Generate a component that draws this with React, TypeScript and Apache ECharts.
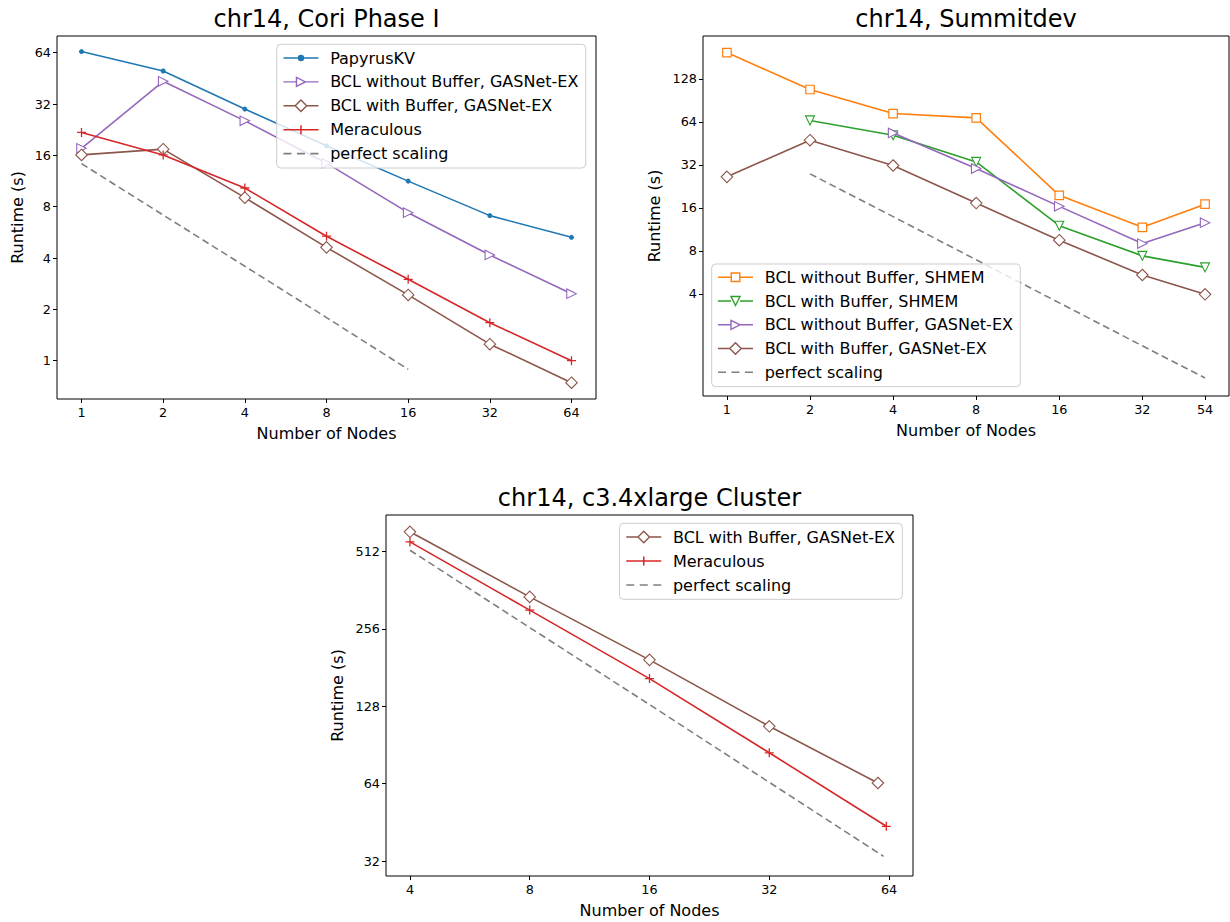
import React, { useEffect, useRef } from 'react';
import * as echarts from 'echarts';

const FONT = 'DejaVu Sans';

// ---- Panel 1: chr14, Cori Phase I ----
const coriNodes = [1, 2, 4, 8, 16, 32, 64];
const coriPapyrus = [65, 50, 29.9, 18.2, 11.3, 7.09, 5.29];
const coriBclNoBufGasnet = [17.6, 43.5, 25.5, 14.4, 7.38, 4.17, 2.47];
const coriBclBufGasnet = [16.1, 17.4, 9.04, 4.62, 2.43, 1.25, 0.743];
const coriMeraculous = [21.8, 16.1, 10.3, 5.37, 3.0, 1.67, 1.0];
const coriPerfectNodes = [1, 2, 4, 8, 16];
const coriPerfect = [14.3, 7.15, 3.58, 1.79, 0.89];
const coriXTicks = [1, 2, 4, 8, 16, 32, 64];
const coriYTicks = [1, 2, 4, 8, 16, 32, 64];

// ---- Panel 2: chr14, Summitdev ----
const sumNodes = [1, 2, 4, 8, 16, 32, 54];
const sumBclNoBufShmem = [196, 108, 73.3, 68.3, 19.6, 11.7, 17.0];
const sumBclBufShmemNodes = [2, 4, 8, 16, 32, 54];
const sumBclBufShmem = [65.6, 51.7, 33.6, 12.0, 7.38, 6.13];
const sumBclNoBufGasnetNodes = [4, 8, 16, 32, 54];
const sumBclNoBufGasnet = [53.6, 30.2, 16.4, 9.0, 12.6];
const sumBclBufGasnet = [26.4, 47.7, 31.7, 17.3, 9.5, 5.42, 3.97];
const sumPerfectNodes = [2, 4, 8, 16, 32, 54];
const sumPerfect = [27.7, 13.9, 6.93, 3.46, 1.73, 1.03];
const sumXTicks = [1, 2, 4, 8, 16, 32, 54];
const sumYTicks = [4, 8, 16, 32, 64, 128];

// ---- Panel 3: chr14, c3.4xlarge Cluster ----
const c3BclNodes = [4, 8, 16, 32, 60];
const c3BclBufGasnet = [611, 341, 194, 107, 64.4];
const c3MerNodes = [4, 8, 16, 32, 63];
const c3Meraculous = [558, 303, 164, 84.4, 43.7];
const c3PerfectNodes = [4, 8, 16, 32, 62];
const c3Perfect = [518, 259, 130, 64.8, 33.4];
const c3XTicks = [4, 8, 16, 32, 64];
const c3YTicks = [32, 64, 128, 256, 512];

const C = {
  blue: '#1f77b4',
  orange: '#ff7f0e',
  green: '#2ca02c',
  red: '#d62728',
  purple: '#9467bd',
  brown: '#8c564b',
  gray: '#7f7f7f',
};

const NAME_PAPYRUS = 'PapyrusKV';
const NAME_NOBUF_GAS = 'BCL without Buffer, GASNet-EX';
const NAME_BUF_GAS = 'BCL with Buffer, GASNet-EX';
const NAME_MER = 'Meraculous';
const NAME_PERF = 'perfect scaling';
const NAME_NOBUF_SH = 'BCL without Buffer, SHMEM';
const NAME_BUF_SH = 'BCL with Buffer, SHMEM';

const PLUS = 'path://M5,0L5,10M0,5L10,5';

// legend icons: line + marker drawn in a 35 x 16 box (centre y = 8)
const ICON: Record<string, string> = {
  [NAME_PAPYRUS]: 'path://M0,8L35,8M15,8a2.5,2.5 0 1,0 5,0a2.5,2.5 0 1,0 -5,0Z',
  [NAME_NOBUF_GAS]: 'path://M0,8L13,8M22,8L35,8M13,3.5L22,8L13,12.5Z',
  [NAME_BUF_GAS]: 'path://M0,8L11.75,8M23.25,8L35,8M17.5,2.25L23.25,8L17.5,13.75L11.75,8Z',
  [NAME_MER]: 'path://M0,8L35,8M17.5,3.5L17.5,12.5',
  [NAME_PERF]: 'path://M0,7.2L8,7.2L8,8.8L0,8.8ZM13.5,7.2L21.5,7.2L21.5,8.8L13.5,8.8ZM27,7.2L35,7.2L35,8.8L27,8.8Z',
  [NAME_NOBUF_SH]: 'path://M0,8L13.25,8M21.75,8L35,8M13.25,3.75L21.75,3.75L21.75,12.25L13.25,12.25Z',
  [NAME_BUF_SH]: 'path://M0,8L13,8M22,8L35,8M13,3.5L22,3.5L17.5,12.5Z',
};
const ICON_STYLE: Record<string, any> = {
  [NAME_PAPYRUS]: { color: C.blue, borderColor: C.blue, borderWidth: 1.5 },
  [NAME_NOBUF_GAS]: { color: '#fff', borderColor: C.purple, borderWidth: 1.4 },
  [NAME_BUF_GAS]: { color: '#fff', borderColor: C.brown, borderWidth: 1.4 },
  [NAME_MER]: { color: C.red, borderColor: C.red, borderWidth: 1.5 },
  [NAME_PERF]: { color: C.gray, borderColor: C.gray, borderWidth: 0 },
  [NAME_NOBUF_SH]: { color: '#fff', borderColor: C.orange, borderWidth: 1.4 },
  [NAME_BUF_SH]: { color: '#fff', borderColor: C.green, borderWidth: 1.4 },
};

const pairs = (xs: number[], ys: number[]) => xs.map((x, i) => [x, ys[i]]);

function lineSeries(name: string, idx: number, xs: number[], ys: number[], color: string, marker: any) {
  return {
    type: 'line',
    name,
    xAxisIndex: idx,
    yAxisIndex: idx,
    data: pairs(xs, ys),
    lineStyle: { color, width: 1.6 },
    ...marker,
  };
}

const mPapyrus = (c: string) => ({ symbol: 'circle', symbolSize: 5, itemStyle: { color: c, borderColor: c, borderWidth: 0 } });
const mTriRight = (c: string) => ({ symbol: 'triangle', symbolSize: 9.5, symbolRotate: -90, itemStyle: { color: '#fff', borderColor: c, borderWidth: 1.1 } });
const mTriDown = (c: string) => ({ symbol: 'triangle', symbolSize: 9, symbolRotate: 180, itemStyle: { color: '#fff', borderColor: c, borderWidth: 1.1 } });
const mDiamond = (c: string) => ({ symbol: 'diamond', symbolSize: 11.5, itemStyle: { color: '#fff', borderColor: c, borderWidth: 1.1 } });
const mSquare = (c: string) => ({ symbol: 'rect', symbolSize: 8.5, itemStyle: { color: '#fff', borderColor: c, borderWidth: 1.2 } });
const mPlus = (c: string) => ({ symbol: PLUS, symbolSize: 9, itemStyle: { color: c, borderColor: c, borderWidth: 1.3 } });

function perfSeries(idx: number, xs: number[], ys: number[]) {
  return {
    type: 'line',
    name: NAME_PERF,
    xAxisIndex: idx,
    yAxisIndex: idx,
    data: pairs(xs, ys),
    symbol: 'none',
    lineStyle: { color: C.gray, width: 1.6, type: [7, 4] },
    itemStyle: { color: C.gray },
  };
}

const tickStyle = { show: true, length: 4, inside: false, lineStyle: { color: '#000', width: 1 } };
const labelStyle = { fontFamily: FONT, fontSize: 12.8, color: '#000' };

function xAxis(idx: number, min: number, max: number, ticks: number[]) {
  return {
    type: 'log',
    logBase: 2,
    gridIndex: idx,
    min,
    max,
    name: 'Number of Nodes',
    nameLocation: 'middle',
    nameGap: 26,
    nameTextStyle: { fontFamily: FONT, fontSize: 16, color: '#000' },
    axisLine: { show: false },
    axisTick: { ...tickStyle, customValues: ticks },
    axisLabel: { ...labelStyle, margin: 7, customValues: ticks, formatter: (v: number) => String(Math.round(v)) },
    splitLine: { show: false },
    minorTick: { show: false },
  };
}

function yAxis(idx: number, min: number, max: number, ticks: number[], gap: number) {
  return {
    type: 'log',
    logBase: 2,
    gridIndex: idx,
    min,
    max,
    name: 'Runtime (s)',
    nameLocation: 'middle',
    nameGap: gap,
    nameRotate: 90,
    nameTextStyle: { fontFamily: FONT, fontSize: 16, color: '#000' },
    axisLine: { show: false },
    axisTick: { ...tickStyle, customValues: ticks },
    axisLabel: { ...labelStyle, margin: 6, customValues: ticks, formatter: (v: number) => String(Math.round(v)) },
    splitLine: { show: false },
    minorTick: { show: false },
  };
}

function legend(left: number, top: number, gap: number, pad: number[], names: string[]) {
  return {
    orient: 'vertical',
    left,
    top,
    itemWidth: 35,
    itemHeight: 16,
    itemGap: gap,
    symbolRotate: 0,
    selectedMode: false,
    backgroundColor: 'rgba(255,255,255,0.8)',
    borderColor: '#cccccc',
    borderWidth: 1,
    borderRadius: 4,
    padding: pad,
    textStyle: { fontFamily: FONT, fontSize: 16, color: '#000', padding: [0, 0, 0, 6.7] },
    data: names.map((n) => ({ name: n, icon: ICON[n], itemStyle: ICON_STYLE[n] })),
  };
}

function title(text: string, x: number, top: number) {
  return {
    text,
    left: x,
    top,
    textAlign: 'center',
    padding: 0,
    textStyle: { fontFamily: FONT, fontSize: 24, fontWeight: 'normal', color: '#000' },
  };
}

export default function App() {
  const ref = useRef<HTMLDivElement>(null);

  useEffect(() => {
    if (!ref.current) return;
    const chart = echarts.init(ref.current, undefined, { renderer: 'svg' });

    const gridBase = { show: true, borderColor: '#000', borderWidth: 1, backgroundColor: 'transparent', containLabel: false };

    const option: any = {
      animation: false,
      backgroundColor: '#fff',
      textStyle: { fontFamily: FONT },
      title: [
        title('chr14, Cori Phase I', 326.5, 7),
        title('chr14, Summitdev', 966, 7),
        title('chr14, c3.4xlarge Cluster', 649.5, 486),
      ],
      grid: [
        { ...gridBase, left: 57, top: 36, width: 539, height: 363 },
        { ...gridBase, left: 703, top: 36, width: 526, height: 360 },
        { ...gridBase, left: 386, top: 515, width: 527, height: 361 },
      ],
      xAxis: [
        xAxis(0, Math.pow(2, -0.3), 64 * Math.pow(2, 0.3), coriXTicks),
        xAxis(1, Math.pow(2, -0.288), 54 * Math.pow(2, 0.288), sumXTicks),
        xAxis(2, 4 * Math.pow(2, -0.2), 64 * Math.pow(2, 0.2), c3XTicks),
      ],
      yAxis: [
        yAxis(0, 0.596, 80.2, coriYTicks, 32),
        yAxis(1, 0.77, 256, sumYTicks, 41),
        yAxis(2, 28.0, 710, c3YTicks, 41),
      ],
      legend: [
        legend(276.7, 44.3, 7.9, [5.7, 7.3, 6.4, 6], [NAME_PAPYRUS, NAME_NOBUF_GAS, NAME_BUF_GAS, NAME_MER, NAME_PERF]),
        legend(711.7, 264, 7.75, [5.3, 7.3, 6.4, 5.6], [NAME_NOBUF_SH, NAME_BUF_SH, NAME_NOBUF_GAS, NAME_BUF_GAS, NAME_PERF]),
        legend(619.5, 523.3, 8, [5.7, 7.3, 6.3, 6], [NAME_BUF_GAS, NAME_MER, NAME_PERF]),
      ],
      series: [
        lineSeries(NAME_PAPYRUS, 0, coriNodes, coriPapyrus, C.blue, mPapyrus(C.blue)),
        lineSeries(NAME_NOBUF_GAS, 0, coriNodes, coriBclNoBufGasnet, C.purple, mTriRight(C.purple)),
        lineSeries(NAME_BUF_GAS, 0, coriNodes, coriBclBufGasnet, C.brown, mDiamond(C.brown)),
        lineSeries(NAME_MER, 0, coriNodes, coriMeraculous, C.red, mPlus(C.red)),
        perfSeries(0, coriPerfectNodes, coriPerfect),

        lineSeries(NAME_NOBUF_SH, 1, sumNodes, sumBclNoBufShmem, C.orange, mSquare(C.orange)),
        lineSeries(NAME_BUF_SH, 1, sumBclBufShmemNodes, sumBclBufShmem, C.green, mTriDown(C.green)),
        lineSeries(NAME_NOBUF_GAS, 1, sumBclNoBufGasnetNodes, sumBclNoBufGasnet, C.purple, mTriRight(C.purple)),
        lineSeries(NAME_BUF_GAS, 1, sumNodes, sumBclBufGasnet, C.brown, mDiamond(C.brown)),
        perfSeries(1, sumPerfectNodes, sumPerfect),

        lineSeries(NAME_BUF_GAS, 2, c3BclNodes, c3BclBufGasnet, C.brown, mDiamond(C.brown)),
        lineSeries(NAME_MER, 2, c3MerNodes, c3Meraculous, C.red, mPlus(C.red)),
        perfSeries(2, c3PerfectNodes, c3Perfect),
      ],
    };

    chart.setOption(option);
    return () => chart.dispose();
  }, []);

  return (
    <div
      ref={ref}
      style={{ position: 'absolute', left: 0, top: 0, width: 1230, height: 922 }}
    />
  );
}
